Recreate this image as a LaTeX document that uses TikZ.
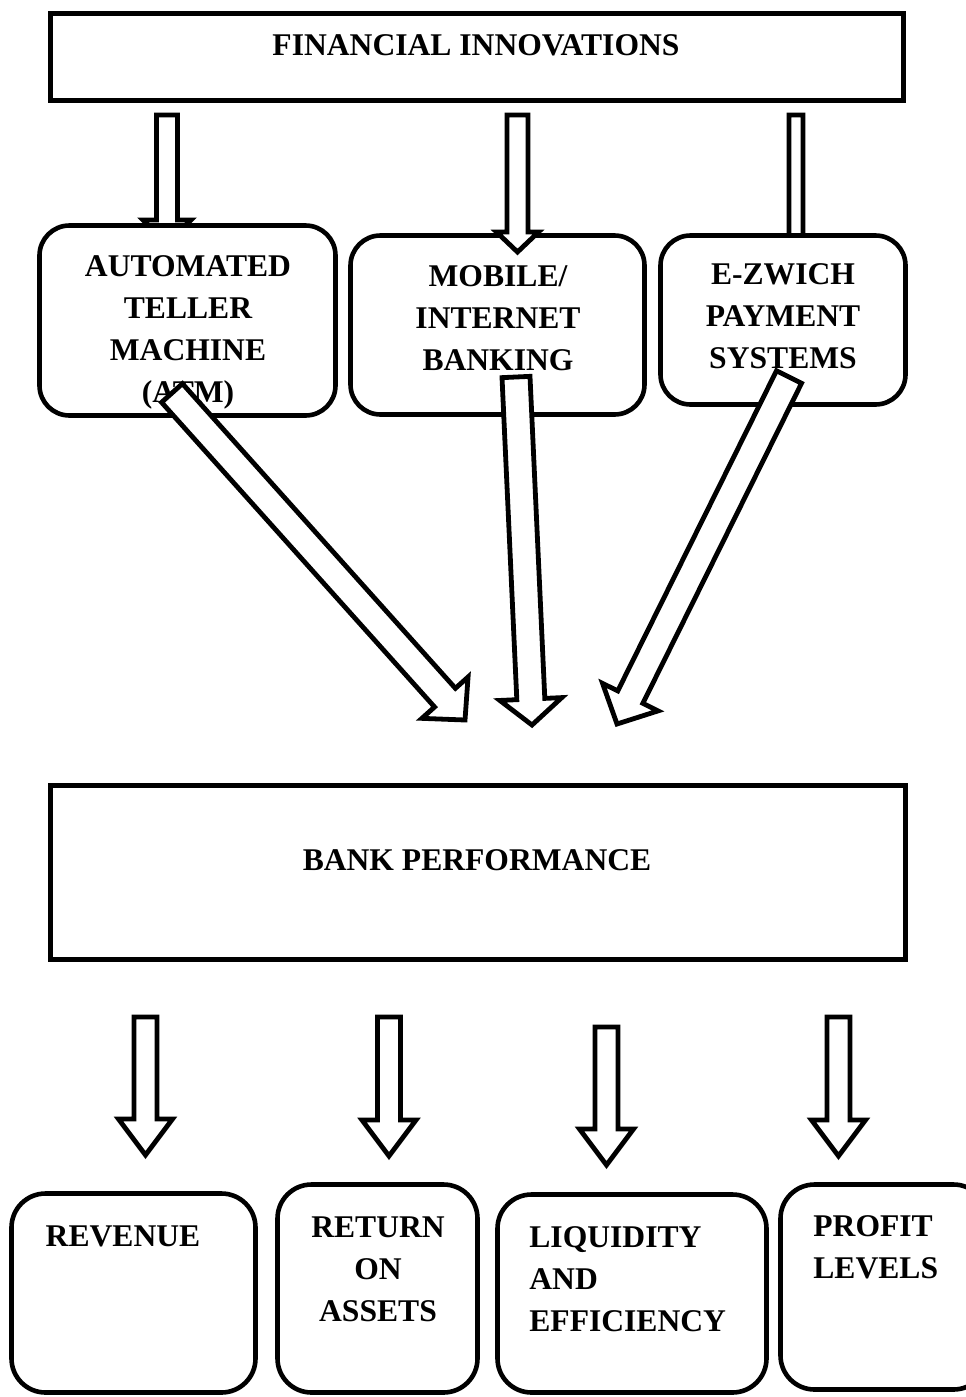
\documentclass[tikz,border=0pt]{standalone}
\usepackage{fontspec}
\setmainfont{Liberation Serif}
\usetikzlibrary{calc}

% hollow block arrow: tail, tip, half shaft, half head, head length
\newcommand{\hollowarrow}[5]{%
  \coordinate (hb) at ($(#2)!#5!(#1)$);
  \draw[hollow] ($(#1)!#3!90:(#2)$) -- ($(hb)!#3!90:(#2)$) -- ($(hb)!#4!90:(#2)$) -- (#2)
    -- ($(hb)!#4!-90:(#2)$) -- ($(hb)!#3!-90:(#2)$) -- ($(#1)!#3!-90:(#2)$) -- cycle;
}

\begin{document}
\begin{tikzpicture}[x=0.5pt, y=-0.5pt,
  every node/.style={font=\fontsize{15.8}{21}\selectfont\bfseries},
  flatbox/.style={draw, line width=2.3pt, fill=white, inner sep=0pt},
  softbox/.style={flatbox, rounded corners=15pt},
  boxtext/.style={align=center, inner sep=0pt},
  hollow/.style={draw, fill=white, line width=2.4pt, line join=miter}]
\useasboundingbox (0,0) rectangle (965,1397);

\node[flatbox, minimum width=426.5pt, minimum height=43.5pt] (fin) at (477,57) {};
\node[boxtext] (fintxt) at (476,45) {FINANCIAL INNOVATIONS};

\coordinate (t1a) at (167,115);
\coordinate (t1b) at (167,244);
\coordinate (t2a) at (517.5,115);
\coordinate (t2b) at (517.5,252);
\coordinate (t3a) at (796,115);
\coordinate (t3b) at (796,262);
\hollowarrow{t1a}{t1b}{5.25pt}{12pt}{12pt}
\hollowarrow{t3a}{t3b}{3.5pt}{9pt}{10pt}

\node[softbox, minimum width=148pt, minimum height=95pt] (atm) at (187.5,320.5) {};
\node[softbox, minimum width=147pt, minimum height=89.5pt] (mob) at (497.5,325) {};
\node[softbox, minimum width=122.5pt, minimum height=84.5pt] (ezw) at (783,320) {};
\node[boxtext] (atmtxt) at (188,332) {AUTOMATED\\TELLER\\MACHINE\\(ATM)};
\node[boxtext] (mobtxt) at (498,318.5) {MOBILE/\\INTERNET\\BANKING};
\node[boxtext] (ezwtxt) at (783,316) {E-ZWICH\\PAYMENT\\SYSTEMS};

\hollowarrow{t2a}{t2b}{5.25pt}{10.5pt}{10pt}

\coordinate (d1a) at (172,393);
\coordinate (d1b) at (465,720);
\coordinate (d2a) at (516,377);
\coordinate (d2b) at (532,725);
\coordinate (d3a) at (789,377);
\coordinate (d3b) at (617,724);
\hollowarrow{d1a}{d1b}{7pt}{15.5pt}{15pt}
\hollowarrow{d2a}{d2b}{7pt}{15.5pt}{13pt}
\hollowarrow{d3a}{d3b}{7pt}{15.5pt}{15pt}

\node[flatbox, minimum width=427.5pt, minimum height=87pt] (bank) at (478,872.5) {};
\node[boxtext] (banktxt) at (477,860) {BANK PERFORMANCE};

\coordinate (b1a) at (145.5,1017);
\coordinate (b1b) at (145.5,1155);
\coordinate (b2a) at (389,1017);
\coordinate (b2b) at (389,1156);
\coordinate (b3a) at (606.5,1027);
\coordinate (b3b) at (606.5,1165);
\coordinate (b4a) at (838.5,1017);
\coordinate (b4b) at (838.5,1156);
\hollowarrow{b1a}{b1b}{5.75pt}{13.5pt}{18pt}
\hollowarrow{b2a}{b2b}{5.75pt}{13.5pt}{18pt}
\hollowarrow{b3a}{b3b}{5.75pt}{13.5pt}{18pt}
\hollowarrow{b4a}{b4b}{5.75pt}{13.5pt}{18pt}

\node[softbox, rounded corners=17pt, minimum width=122pt, minimum height=99.5pt] (rev) at (133.5,1293) {};
\node[softbox, rounded corners=17pt, minimum width=100pt, minimum height=104pt] (roa) at (377.5,1288.5) {};
\node[softbox, rounded corners=17pt, minimum width=134.5pt, minimum height=99pt] (liq) at (632,1293.5) {};
\node[softbox, rounded corners=17pt, minimum width=103.5pt, minimum height=102.5pt] (pro) at (884,1287) {};
\node[boxtext] (revtxt) at (123,1236) {REVENUE};
\node[boxtext] (roatxt) at (378,1269.5) {RETURN\\ON\\ASSETS};
\node[boxtext, align=left, anchor=west] (liqtxt) at (529,1279.5) {LIQUIDITY\\AND\\EFFICIENCY};
\node[boxtext, align=left, anchor=west] (protxt) at (813,1247.5) {PROFIT\\LEVELS};
\end{tikzpicture}
\end{document}
